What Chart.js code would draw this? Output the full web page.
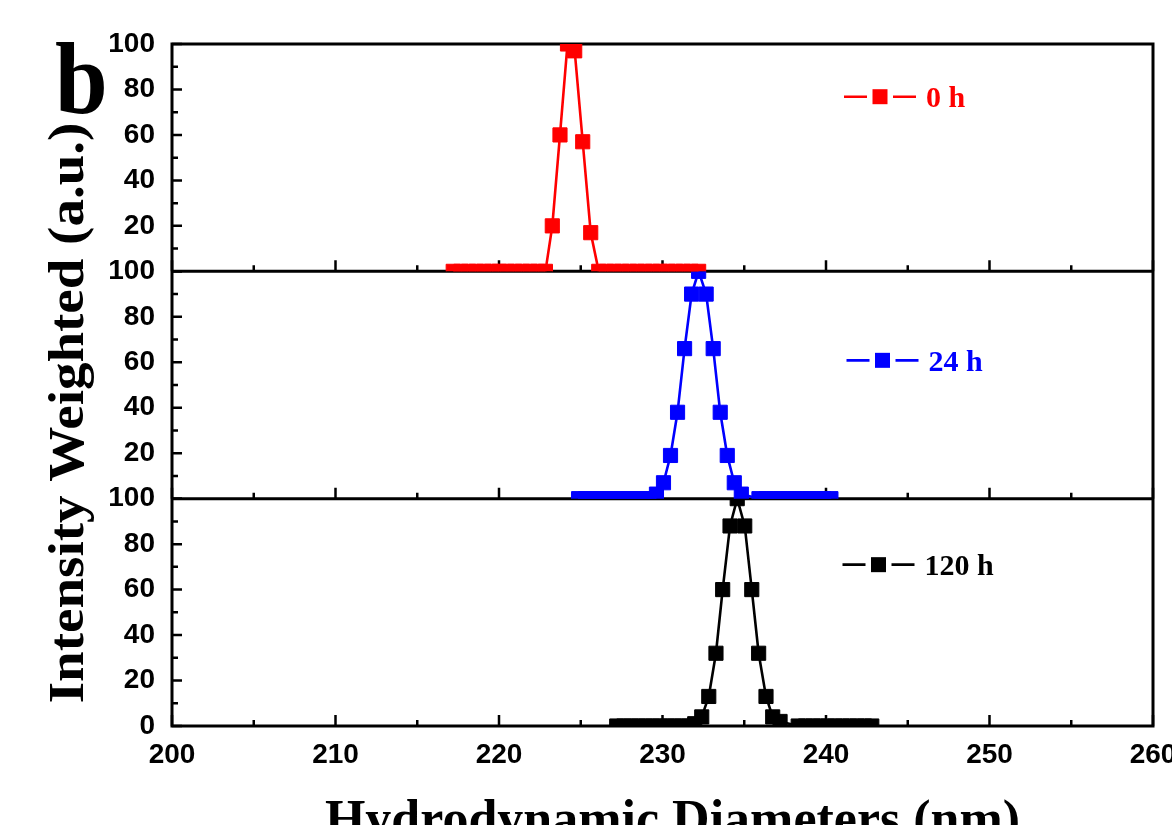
<!DOCTYPE html>
<html>
<head>
<meta charset="utf-8">
<script src="https://cdn.jsdelivr.net/npm/chart.js@4/dist/chart.umd.min.js"></script>
<style>
html,body{margin:0;padding:0;background:#fff;}
#wrap{width:1172px;height:825px;position:relative;overflow:hidden;background:#fff;}
canvas{display:block;}
</style>
</head>
<body>
<div id="wrap"><canvas id="c" width="1172" height="825"></canvas></div>
<script>
// ---------- data ----------
const seriesNames = ['0 h', '24 h', '120 h'];
const seriesColors = ['#ff0000', '#0000ff', '#000000'];

const diam0h = [217.2, 217.67, 218.14, 218.61, 219.08, 219.55, 220.02, 220.49, 220.96, 221.43, 221.9, 222.37, 222.84,
  223.26, 223.73, 224.19, 224.63, 225.12, 225.61,
  226.1, 226.57, 227.04, 227.51, 227.98, 228.45, 228.92, 229.39, 229.86, 230.33, 230.8, 231.27, 231.74, 232.21];
const int0h = [0, 0, 0, 0, 0, 0, 0, 0, 0, 0, 0, 0, 0,
  20, 60, 100, 97, 57, 17,
  0, 0, 0, 0, 0, 0, 0, 0, 0, 0, 0, 0, 0, 0];

const diam24h = [224.87, 225.3, 225.73, 226.16, 226.59, 227.02, 227.45, 227.88, 228.31, 228.74, 229.17,
  229.63, 230.06, 230.49, 230.92, 231.35, 231.78, 232.21, 232.67, 233.1, 233.53, 233.96, 234.39, 234.82,
  235.9, 236.34, 236.78, 237.22, 237.66, 238.1, 238.54, 238.98, 239.42, 239.86, 240.3];
const int24h = [0, 0, 0, 0, 0, 0, 0, 0, 0, 0, 0,
  2, 7, 19, 38, 66, 90, 100, 90, 66, 38, 19, 7, 2,
  0, 0, 0, 0, 0, 0, 0, 0, 0, 0, 0];

const diam120h = [227.2, 227.64, 228.08, 228.52, 228.96, 229.4, 229.84, 230.28, 230.72, 231.16, 231.6,
  231.97, 232.4, 232.83, 233.27, 233.68, 234.13, 234.57, 235.03, 235.46, 235.88, 236.33, 236.74, 237.19,
  238.3, 238.75, 239.2, 239.65, 240.1, 240.55, 241.0, 241.45, 241.9, 242.35, 242.8];
const int120h = [0, 0, 0, 0, 0, 0, 0, 0, 0, 0, 0,
  1, 4, 13, 32, 60, 88, 100, 88, 60, 32, 13, 4, 2,
  0, 0, 0, 0, 0, 0, 0, 0, 0, 0, 0];

const xTickValues = [200, 210, 220, 230, 240, 250, 260];
const xTickLabels = ['200', '210', '220', '230', '240', '250', '260'];
const xMinorTicks = [205, 215, 225, 235, 245, 255];
const yTickValues = [0, 20, 40, 60, 80, 100];
const yMinorTicks = [10, 30, 50, 70, 90];

const xTitle = 'Hydrodynamic Diameters (nm)';
const yTitle = 'Intensity Weighted (a.u.)';
const panelLetter = 'b';

// ---------- chart ----------
const panelIds = ['yTop', 'yMid', 'yBot'];
const legendPos = [ // marker centre x, offset of legend line below panel top
  {cx: 880, dy: 52.7},
  {cx: 882.5, dy: 89},
  {cx: 878.5, dy: 66}
];
const tickFont = {family: '"Liberation Sans", Arial, sans-serif', weight: 'bold', size: 28};
const serif = '"Liberation Serif", "Times New Roman", serif';

function pts(xs, ys) { return xs.map((x, i) => ({x: x, y: ys[i]})); }

function makeDs(i, xs, ys) {
  return {
    label: seriesNames[i],
    data: pts(xs, ys),
    yAxisID: panelIds[i],
    xAxisID: 'x',
    borderColor: seriesColors[i],
    backgroundColor: seriesColors[i],
    pointBackgroundColor: seriesColors[i],
    pointBorderColor: seriesColors[i],
    borderWidth: 2.6,
    pointStyle: 'rect',
    pointRadius: 10,
    pointBorderWidth: 1,
    tension: 0,
    fill: false
  };
}

function yScale(showZero) {
  return {
    type: 'linear', position: 'left', stack: 'panels', stackWeight: 1,
    min: 0, max: 100,
    grid: {display: false, drawTicks: false},
    border: {display: false},
    afterBuildTicks: s => { s.ticks = yTickValues.map(v => ({value: v})); },
    ticks: {
      color: '#000', font: tickFont, padding: 17, autoSkip: false,
      callback: v => (v === 0 && !showZero) ? '' : String(v)
    },
    afterFit: s => { s.width = 172; s.paddingTop = 0; s.paddingBottom = 0; }
  };
}

const clipPlugin = {
  id: 'panelClip',
  beforeDatasetDraw(chart, args) {
    const ys = args.meta.yScale, a = chart.chartArea, ctx = chart.ctx;
    ctx.save();
    ctx.beginPath();
    ctx.rect(a.left, ys.top - 1.5, a.right - a.left, ys.bottom - ys.top + 3);
    ctx.clip();
  },
  afterDatasetDraw(chart) { chart.ctx.restore(); }
};

const framePlugin = {
  id: 'frames',
  beforeDatasetsDraw(chart) {
    const ctx = chart.ctx, a = chart.chartArea, sx = chart.scales.x;
    ctx.save();
    ctx.strokeStyle = '#000';
    ctx.lineCap = 'butt';
    ctx.lineWidth = 2.5;
    panelIds.forEach(id => {
      const ys = chart.scales[id];
      const b = ys.bottom;
      ctx.beginPath();
      xTickValues.forEach(v => { const px = sx.getPixelForValue(v); ctx.moveTo(px, b); ctx.lineTo(px, b - 11); });
      xMinorTicks.forEach(v => { const px = sx.getPixelForValue(v); ctx.moveTo(px, b); ctx.lineTo(px, b - 6); });
      yTickValues.forEach(v => { const py = ys.getPixelForValue(v); ctx.moveTo(a.left, py); ctx.lineTo(a.left + 10, py); });
      yMinorTicks.forEach(v => { const py = ys.getPixelForValue(v); ctx.moveTo(a.left, py); ctx.lineTo(a.left + 6, py); });
      ctx.stroke();
    });
    ctx.lineWidth = 3;
    ctx.strokeRect(a.left, a.top, a.right - a.left, a.bottom - a.top);
    ctx.beginPath();
    ['yTop', 'yMid'].forEach(id => {
      const b = chart.scales[id].bottom;
      ctx.moveTo(a.left, b); ctx.lineTo(a.right, b);
    });
    ctx.stroke();
    ctx.restore();
  },
  afterDraw(chart) {
    const ctx = chart.ctx, a = chart.chartArea;
    ctx.save();
    // legends
    panelIds.forEach((id, i) => {
      const ys = chart.scales[id];
      const cx = legendPos[i].cx, cy = ys.top + legendPos[i].dy;
      ctx.strokeStyle = seriesColors[i];
      ctx.fillStyle = seriesColors[i];
      ctx.lineWidth = 2.6;
      ctx.beginPath();
      ctx.moveTo(cx - 36, cy); ctx.lineTo(cx - 13, cy);
      ctx.moveTo(cx + 13, cy); ctx.lineTo(cx + 36, cy);
      ctx.stroke();
      ctx.fillRect(cx - 7.5, cy - 7.5, 15, 15);
      ctx.font = 'bold 30px ' + serif;
      ctx.textAlign = 'left';
      ctx.textBaseline = 'alphabetic';
      ctx.fillText(seriesNames[i], cx + 46, cy + 10.5);
    });
    // axis titles
    ctx.fillStyle = '#000';
    ctx.font = 'bold 52px ' + serif;
    ctx.textAlign = 'center';
    ctx.textBaseline = 'alphabetic';
    ctx.fillText(xTitle, (a.left + a.right) / 2 + 10, 836);
    ctx.save();
    ctx.translate(83, 413);
    ctx.rotate(-Math.PI / 2);
    ctx.scale(1, 0.92);
    ctx.font = 'bold 55px ' + serif;
    ctx.fillText(yTitle, 0, 0);
    ctx.restore();
    // panel letter
    ctx.save();
    ctx.translate(55, 113);
    ctx.scale(0.93, 1);
    ctx.font = 'bold 102px ' + serif;
    ctx.textAlign = 'left';
    ctx.fillText(panelLetter, 0, 0);
    ctx.restore();
    ctx.restore();
  }
};

new Chart(document.getElementById('c'), {
  type: 'line',
  data: {
    datasets: [
      makeDs(0, diam0h, int0h),
      makeDs(1, diam24h, int24h),
      makeDs(2, diam120h, int120h)
    ]
  },
  options: {
    responsive: false,
    devicePixelRatio: 1,
    animation: false,
    layout: {padding: {left: 0, top: 44, right: 19, bottom: 0}},
    plugins: {legend: {display: false}, tooltip: {enabled: false}, title: {display: false}},
    scales: {
      x: {
        type: 'linear', position: 'bottom', min: 200, max: 260,
        grid: {display: false, drawTicks: false},
        border: {display: false},
        afterBuildTicks: s => { s.ticks = xTickValues.map(v => ({value: v})); },
        ticks: {
          color: '#000', font: tickFont, padding: 12, maxRotation: 0, autoSkip: false,
          callback: (v, i) => xTickLabels[i]
        },
        afterFit: s => { s.height = 99; s.paddingLeft = 0; s.paddingRight = 0; }
      },
      // stacked axes are laid out bottom-up in definition order
      yBot: yScale(true),
      yMid: yScale(false),
      yTop: yScale(false)
    }
  },
  plugins: [clipPlugin, framePlugin]
});
</script>
</body>
</html>
